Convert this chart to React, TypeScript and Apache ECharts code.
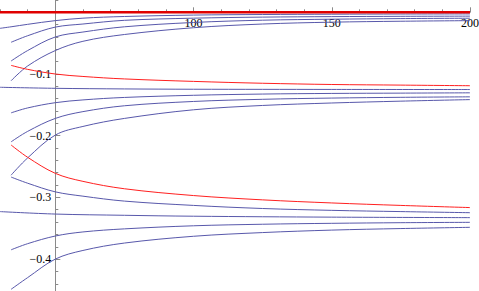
import React, { useEffect, useRef } from "react";
import * as echarts from "echarts";

// x samples (curves start where they appear in the picture)
const xsLeft = [30, 34, 40, 50, 60, 75, 100, 125, 150, 175, 200];
const xsStart = [34, 40, 50, 60, 75, 100, 125, 150, 175, 200];
const xsFlat = [30, 50, 75, 100, 150, 200];
const xsZero = [30, 200];

// top group (near 0)
const redTop = [0, 0];
const blueA = [-0.026, -0.0235, -0.0195, -0.0135, -0.0095, -0.0068, -0.0045, -0.0036, -0.0031, -0.0028, -0.0026];
const blueB = [-0.0486, -0.038, -0.024, -0.019, -0.013, -0.0095, -0.0078, -0.007, -0.0065, -0.0062];
const blueC = [-0.079, -0.062, -0.04, -0.032, -0.0235, -0.0165, -0.0128, -0.0112, -0.0102, -0.0096];
const blueD = [-0.111, -0.087, -0.062, -0.047, -0.036, -0.025, -0.019, -0.016, -0.0145, -0.0135];

// middle group (near -0.12)
const redMid = [-0.086, -0.0925, -0.1, -0.104, -0.108, -0.112, -0.115, -0.117, -0.118, -0.119];
const blueMidFlat = [-0.1215, -0.1232, -0.1242, -0.1247, -0.125, -0.1252];
const blueE = [-0.163, -0.155, -0.1465, -0.142, -0.138, -0.1345, -0.1325, -0.1315, -0.131, -0.1305];
const blueF = [-0.21, -0.193, -0.172, -0.161, -0.1515, -0.1445, -0.141, -0.139, -0.1378, -0.137];
const blueG = [-0.264, -0.236, -0.199, -0.185, -0.172, -0.158, -0.151, -0.147, -0.144, -0.1415];

// lower group (near -0.33)
const redLow = [-0.215, -0.235, -0.261, -0.274, -0.286, -0.297, -0.304, -0.309, -0.313, -0.3165];
const blueH = [-0.267, -0.277, -0.291, -0.298, -0.306, -0.313, -0.318, -0.321, -0.323, -0.3248];
const blueLowFlat = [-0.323, -0.327, -0.329, -0.3305, -0.332, -0.3328];
const blueI = [-0.385, -0.375, -0.3626, -0.356, -0.351, -0.346, -0.3435, -0.342, -0.341, -0.3404];
const blueJ = [-0.449, -0.43, -0.4, -0.386, -0.374, -0.363, -0.357, -0.353, -0.3505, -0.3485];

const xTickLabels = [100, 150, 200];
const yTickLabels = [-0.1, -0.2, -0.3, -0.4];

const BLUE = "#5858ab";
const RED = "#ff2020";
const SERIF = "Times New Roman, Liberation Serif, DejaVu Serif, serif";

function pairs(xs: number[], ys: number[]) {
  return ys.map((y, i) => [xs[i], y]);
}

function line(xs: number[], ys: number[], color: string, width: number) {
  return {
    type: "line",
    data: pairs(xs, ys),
    smooth: 0.35,
    showSymbol: false,
    symbol: "none",
    lineStyle: { color, width },
    silent: true,
  };
}

export default function App() {
  const ref = useRef<HTMLDivElement>(null);
  useEffect(() => {
    if (!ref.current) return;
    const chart = echarts.init(ref.current, undefined, { renderer: "svg" });
    const axisColor = "#8a8a8a";
    chart.setOption({
      animation: false,
      backgroundColor: "#ffffff",
      textStyle: { fontFamily: SERIF },
      grid: {
        left: -82.95,
        right: 9,
        top: -49.4,
        bottom: -29.8,
        containLabel: false,
        outerBoundsMode: "none",
      },
      xAxis: {
        type: "value",
        position: "top",
        offset: -61.7,
        min: 0,
        max: 200,
        interval: 50,
        axisLine: { show: true, onZero: false, lineStyle: { color: axisColor, width: 1 } },
        axisTick: { show: true, inside: false, length: 5, lineStyle: { color: axisColor } },
        minorTick: { show: true, splitNumber: 5, length: 3, lineStyle: { color: axisColor } },
        splitLine: { show: false },
        minorSplitLine: { show: false },
        axisLabel: {
          inside: true,
          margin: 5,
          color: "#000000",
          fontFamily: SERIF,
          fontSize: 12,
          formatter: (v: number) => (xTickLabels.indexOf(Math.round(v)) >= 0 ? String(Math.round(v)) : ""),
        },
      },
      yAxis: {
        type: "value",
        min: -0.5,
        max: 0.1,
        interval: 0.1,
        offset: -138.25,
        axisLine: { show: true, onZero: false, lineStyle: { color: axisColor, width: 1 } },
        axisTick: { show: true, inside: true, length: 5, lineStyle: { color: axisColor } },
        minorTick: { show: true, splitNumber: 5, length: 3, lineStyle: { color: axisColor } },
        splitLine: { show: false },
        minorSplitLine: { show: false },
        axisLabel: {
          margin: 4,
          color: "#000000",
          fontFamily: SERIF,
          fontSize: 12,
          formatter: (v: number) => {
            const r = Math.round(v * 10) / 10;
            return yTickLabels.indexOf(r) >= 0 ? "\u2212" + Math.abs(r).toFixed(1) : "";
          },
        },
      },
      series: [
        line(xsLeft, blueA, BLUE, 1),
        line(xsStart, blueB, BLUE, 1),
        line(xsStart, blueC, BLUE, 1),
        line(xsStart, blueD, BLUE, 1),
        line(xsFlat, blueMidFlat, BLUE, 1),
        line(xsStart, blueE, BLUE, 1),
        line(xsStart, blueF, BLUE, 1),
        line(xsStart, blueG, BLUE, 1),
        line(xsStart, blueH, BLUE, 1),
        line(xsFlat, blueLowFlat, BLUE, 1),
        line(xsStart, blueI, BLUE, 1),
        line(xsStart, blueJ, BLUE, 1),
        line(xsStart, redMid, RED, 1),
        line(xsStart, redLow, RED, 1),
        line(xsZero, redTop, "#e00000", 2.5),
      ],
    });
    return () => chart.dispose();
  }, []);
  return (
    <div
      ref={ref}
      style={{ position: "absolute", left: 0, top: 0, width: 479, height: 291 }}
    />
  );
}
